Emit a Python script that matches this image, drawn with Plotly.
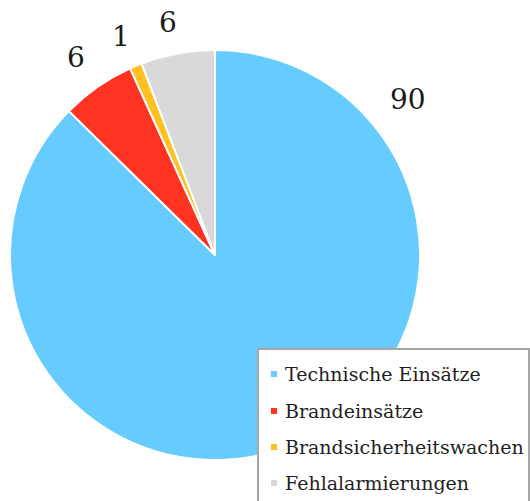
import plotly.graph_objects as go

categories = ["Technische Einsätze", "Brandeinsätze", "Brandsicherheitswachen", "Fehlalarmierungen"]
values = [90, 6, 1, 6]
colors = ["#66ccff", "#ff3322", "#ffc020", "#d9d9d9"]

# label centre positions in pixels (layout, not data)
label_pos = [(408, 100), (76, 58), (121, 37), (168, 23)]

W, H = 530, 501
def px(x):
    return x / W
def py(y):
    return 1 - y / H

cx, cy, r = 215, 255, 205

fig = go.Figure(go.Pie(
    labels=categories,
    values=values,
    marker=dict(colors=colors, line=dict(color="white", width=2)),
    sort=False,
    direction="clockwise",
    rotation=0,
    textinfo="none",
    hoverinfo="label+value",
    showlegend=False,
    domain=dict(x=[px(cx - r), px(cx + r)], y=[py(cy + r), py(cy - r)]),
))

annotations = []
for v, (lx, ly) in zip(values, label_pos):
    annotations.append(dict(
        x=px(lx), y=py(ly), xref="paper", yref="paper",
        text=str(v), showarrow=False, xanchor="center", yanchor="middle",
        font=dict(family="DejaVu Serif", size=28, color="#1a1a1a"),
    ))

shapes = [dict(type="rect", xref="paper", yref="paper",
               x0=px(258), x1=px(529), y0=py(512), y1=py(349),
               line=dict(color="#a6a6a6", width=2), fillcolor="white", layer="above")]

row_y = [374, 411, 447, 483]
for cat, col, ry in zip(categories, colors, row_y):
    shapes.append(dict(type="rect", xref="paper", yref="paper",
                       x0=px(271), x1=px(277), y0=py(ry + 3), y1=py(ry - 3),
                       line=dict(width=0), fillcolor=col, layer="above"))
    annotations.append(dict(
        x=px(283), y=py(ry), xref="paper", yref="paper",
        text=cat, showarrow=False, xanchor="left", yanchor="middle",
        font=dict(family="DejaVu Serif", size=19, color="#1f1f1f"),
    ))

fig.update_layout(
    width=W, height=H,
    margin=dict(l=0, r=0, t=0, b=0),
    paper_bgcolor="white", plot_bgcolor="white",
    shapes=shapes, annotations=annotations,
    showlegend=False,
)

fig.write_html(
    "out.html",
    config={"displayModeBar": False},
    post_script="document.body.style.margin='0px';document.body.style.overflow='hidden';",
)
